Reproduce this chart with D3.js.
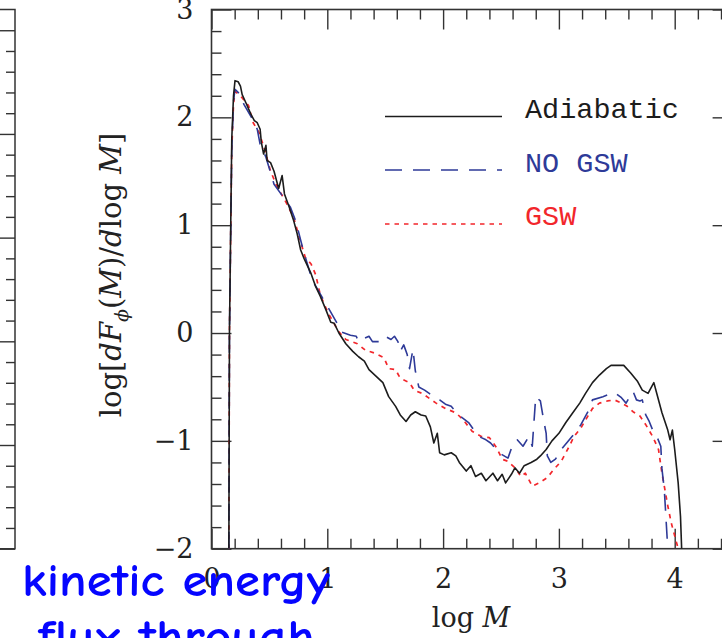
<!DOCTYPE html>
<html>
<head>
<meta charset="utf-8">
<script src="https://cdn.jsdelivr.net/npm/d3@7"></script>
<style>
  html, body { margin: 0; padding: 0; background: #fff; }
  svg { display: block; }
</style>
</head>
<body>
<svg id="chart" width="722" height="638"></svg>
<script>
// ---------------- data ----------------
const adiabaticX = [0.15,0.155,0.175,0.19,0.203,0.23,0.25,0.265,0.295,0.34,0.37,0.395,0.42,0.43,0.45,0.47,0.48,0.51,0.54,0.58,0.61,0.63,0.67,0.71,0.74,0.77,0.80,0.86,0.90,0.94,0.99,1.03,1.06,1.10,1.16,1.22,1.27,1.32,1.36,1.42,1.48,1.53,1.59,1.63,1.68,1.72,1.76,1.81,1.85,1.89,1.92,1.95,1.97,2.01,2.07,2.11,2.14,2.20,2.24,2.28,2.33,2.37,2.43,2.47,2.51,2.54,2.59,2.62,2.66,2.70,2.76,2.81,2.84,2.89,2.94,3.00,3.06,3.12,3.18,3.23,3.29,3.35,3.41,3.45,3.51,3.56,3.62,3.68,3.72,3.77,3.80,3.82,3.84,3.89,3.94,3.96,3.98,4.00,4.03,4.05,4.06];
const adiabaticY = [-2.0,0.0,1.8,2.2,2.34,2.33,2.29,2.21,2.14,2.03,1.97,1.95,1.89,1.77,1.66,1.74,1.60,1.58,1.50,1.34,1.46,1.29,1.17,1.04,0.92,0.77,0.69,0.55,0.43,0.34,0.21,0.10,0.09,0.0,-0.10,-0.17,-0.22,-0.26,-0.34,-0.40,-0.46,-0.59,-0.68,-0.76,-0.82,-0.76,-0.73,-0.76,-0.77,-0.87,-1.02,-0.93,-1.11,-1.13,-1.11,-1.14,-1.20,-1.28,-1.23,-1.33,-1.30,-1.37,-1.30,-1.37,-1.31,-1.39,-1.31,-1.25,-1.30,-1.23,-1.20,-1.17,-1.14,-1.08,-1.00,-0.93,-0.83,-0.74,-0.65,-0.56,-0.46,-0.39,-0.33,-0.30,-0.30,-0.30,-0.37,-0.45,-0.53,-0.56,-0.50,-0.46,-0.54,-0.74,-0.90,-0.99,-0.90,-1.08,-1.39,-1.70,-2.0];

const noGswX = [0.15,0.155,0.175,0.19,0.203,0.24,0.28,0.34,0.395,0.42,0.47,0.54,0.60,0.68,0.73,0.77,0.80,0.87,0.94,1.00,1.09,1.12,1.20,1.25,1.27,1.32,1.36,1.39,1.46,1.50,1.55,1.58,1.61,1.63,1.66,1.69,1.71,1.74,1.76,1.79,1.84,1.88,1.92,1.97,2.02,2.07,2.11,2.17,2.22,2.28,2.33,2.37,2.41,2.46,2.48,2.56,2.60,2.64,2.69,2.74,2.77,2.80,2.84,2.87,2.89,2.90,2.93,2.97,3.02,3.09,3.15,3.19,3.26,3.29,3.38,3.43,3.48,3.54,3.58,3.64,3.67,3.70,3.72,3.75,3.78,3.81,3.85,3.88,3.89,3.91,3.92,3.94];
const noGswY = [-2.0,0.0,1.7,2.15,2.26,2.22,2.12,2.01,1.89,1.75,1.63,1.38,1.29,1.17,1.03,0.86,0.74,0.49,0.36,0.25,0.08,0.01,-0.02,-0.03,-0.08,-0.05,-0.03,-0.08,-0.08,-0.03,-0.06,-0.03,-0.08,-0.17,-0.11,-0.20,-0.33,-0.15,-0.35,-0.50,-0.53,-0.56,-0.59,-0.62,-0.66,-0.68,-0.73,-0.79,-0.83,-0.92,-0.97,-0.99,-1.02,-1.08,-1.11,-1.16,-1.04,-0.99,-1.05,-0.96,-1.05,-0.59,-0.63,-0.82,-0.93,-1.14,-1.20,-1.17,-1.08,-0.99,-0.91,-0.85,-0.71,-0.62,-0.59,-0.57,-0.55,-0.60,-0.65,-0.54,-0.62,-0.63,-0.62,-0.76,-0.82,-0.90,-0.97,-1.05,-1.26,-1.45,-1.63,-2.0];

const gswX = [0.15,0.155,0.175,0.19,0.203,0.25,0.32,0.36,0.41,0.46,0.51,0.57,0.64,0.71,0.76,0.81,0.86,0.90,0.94,1.01,1.10,1.16,1.26,1.33,1.42,1.49,1.53,1.59,1.62,1.65,1.71,1.75,1.82,1.94,2.02,2.11,2.17,2.25,2.33,2.40,2.46,2.51,2.56,2.63,2.67,2.71,2.77,2.83,2.90,2.96,3.02,3.09,3.13,3.19,3.25,3.29,3.35,3.42,3.48,3.54,3.59,3.64,3.70,3.75,3.81,3.86,3.89,3.92,3.94,3.97,4.00,4.03];
const gswY = [-2.0,0.0,1.7,2.12,2.24,2.20,2.11,1.95,1.86,1.70,1.50,1.35,1.22,1.07,0.88,0.70,0.64,0.54,0.35,0.18,0.01,-0.06,-0.10,-0.16,-0.19,-0.23,-0.33,-0.34,-0.40,-0.43,-0.46,-0.53,-0.56,-0.65,-0.70,-0.74,-0.80,-0.91,-0.96,-0.97,-1.06,-1.17,-1.19,-1.26,-1.33,-1.30,-1.42,-1.39,-1.34,-1.26,-1.19,-1.05,-0.96,-0.88,-0.77,-0.70,-0.65,-0.63,-0.62,-0.65,-0.68,-0.73,-0.77,-0.85,-0.96,-1.08,-1.30,-1.48,-1.60,-1.76,-1.88,-2.0];

const xTickValues = [0,1,2,3,4];
const xTickLabels = ["0","1","2","3","4"];
const yTickValues = [-2,-1,0,1,2,3];
const yTickLabels = ["\u22122","\u22121","0","1","2","3"];
const seriesNames = ["Adiabatic","NO GSW","GSW"];
const overlayLines = ["kinetic energy","flux through"];

// ---------------- layout ----------------
const svg = d3.select("#chart");
svg.append("rect").attr("width",722).attr("height",638).attr("fill","#fff");

const L = 211.5, T = 9.5, B = 548.7, R = 732.6;
const x = d3.scaleLinear().domain([0,4.5]).range([L,R]);
const y = d3.scaleLinear().domain([-2,3]).range([B,T]);

const minorX = d3.range(0,4.5,0.2).map(v=>+v.toFixed(2)).filter(v=>Math.abs(v-Math.round(v))>1e-6);
const minorY = d3.range(-2,3,0.2).map(v=>+v.toFixed(2)).filter(v=>Math.abs(v-Math.round(v))>1e-6);

const axisColor = "#333";
const tickFont = "DejaVu Serif, Liberation Serif, serif";

function styleAxis(g){
  g.select(".domain").remove();
  g.selectAll(".tick line").attr("stroke",axisColor).attr("stroke-width",1.4);
  g.selectAll(".tick text").attr("fill","#222").style("font-family",tickFont).style("font-size","27px");
}

// ---- left decorative panel (adjacent figure) ----
const leftY = d3.scaleLinear().domain([0,5.2]).range([B,T]);
const leftMinor = d3.range(0,5.2,0.2).map(v=>+v.toFixed(2)).filter(v=>Math.abs(v-Math.round(v))>1e-6);
svg.append("g").attr("transform",`translate(15,0)`)
  .call(d3.axisLeft(leftY).tickValues(leftMinor).tickSize(9).tickFormat(""))
  .call(styleAxis);
svg.append("g").attr("transform",`translate(15,0)`)
  .call(d3.axisLeft(leftY).tickValues([0,1,2,3,4,5]).tickSize(16).tickFormat(""))
  .call(styleAxis);
svg.append("path").attr("d",`M0,${T}H15V${B}H0`).attr("fill","none").attr("stroke",axisColor).attr("stroke-width",1.5);

// ---- main frame ticks ----
svg.append("g").attr("transform",`translate(0,${B})`)
  .call(d3.axisBottom(x).tickValues(minorX).tickSizeInner(-10).tickSizeOuter(0).tickFormat(""))
  .call(styleAxis);
svg.append("g").attr("transform",`translate(0,${B})`)
  .call(d3.axisBottom(x).tickValues(xTickValues).tickSizeInner(-20).tickSizeOuter(0).tickPadding(20)
        .tickFormat((d,i)=>xTickLabels[i]))
  .call(styleAxis);
svg.append("g").attr("transform",`translate(0,${T})`)
  .call(d3.axisTop(x).tickValues(minorX).tickSizeInner(-10).tickSizeOuter(0).tickFormat(""))
  .call(styleAxis);
svg.append("g").attr("transform",`translate(0,${T})`)
  .call(d3.axisTop(x).tickValues(xTickValues).tickSizeInner(-20).tickSizeOuter(0).tickFormat(""))
  .call(styleAxis);
svg.append("g").attr("transform",`translate(${L},0)`)
  .call(d3.axisLeft(y).tickValues(minorY).tickSizeInner(-10).tickSizeOuter(0).tickFormat(""))
  .call(styleAxis);
svg.append("g").attr("transform",`translate(${L},0)`)
  .call(d3.axisLeft(y).tickValues(yTickValues).tickSizeInner(-20).tickSizeOuter(0).tickPadding(18)
        .tickFormat((d,i)=>yTickLabels[i]))
  .call(styleAxis);
svg.append("g").attr("transform",`translate(${R},0)`)
  .call(d3.axisRight(y).tickValues(minorY).tickSizeInner(-10).tickSizeOuter(0).tickFormat(""))
  .call(styleAxis);
svg.append("g").attr("transform",`translate(${R},0)`)
  .call(d3.axisRight(y).tickValues(yTickValues).tickSizeInner(-20).tickSizeOuter(0).tickFormat(""))
  .call(styleAxis);

svg.append("rect").attr("x",L).attr("y",T).attr("width",R-L).attr("height",B-T)
  .attr("fill","none").attr("stroke",axisColor).attr("stroke-width",1.6);

// ---- curves ----
svg.append("clipPath").attr("id","plotclip").append("rect")
  .attr("x",L).attr("y",T).attr("width",R-L).attr("height",B-T);

const line = d3.line().x(d=>x(d[0])).y(d=>y(d[1]));
const series = [
  {name:seriesNames[0], xs:adiabaticX, ys:adiabaticY, color:"#1c1c1c", dash:null, w:1.6, text:"#1c1c1c"},
  {name:seriesNames[1], xs:noGswX, ys:noGswY, color:"#2e3a98", dash:"17,11", w:1.6, text:"#2e3a98"},
  {name:seriesNames[2], xs:gswX, ys:gswY, color:"#f2262b", dash:"4.5,5", w:1.7, text:"#f2262b"}
];
const curves = svg.append("g").attr("clip-path","url(#plotclip)");
[series[2],series[1],series[0]].forEach(s=>{
  const pts = s.xs.map((v,i)=>[v,s.ys[i]]);
  curves.append("path").datum(pts).attr("d",line)
    .attr("fill","none").attr("stroke",s.color).attr("stroke-width",s.w)
    .attr("stroke-linejoin","round")
    .attr("stroke-dasharray",s.dash);
});

// ---- legend ----
const legY = [116.5, 170, 224];
const legTextY = [118, 171.5, 225];
series.forEach((s,i)=>{
  svg.append("line").attr("x1",385).attr("x2",502).attr("y1",legY[i]).attr("y2",legY[i])
    .attr("stroke",s.color).attr("stroke-width",s.w).attr("stroke-dasharray",s.dash);
  svg.append("text").attr("x",525).attr("y",legTextY[i]).text(s.name)
    .attr("fill",s.text).style("font-family","Liberation Mono, DejaVu Sans Mono, monospace")
    .style("font-size","28.5px");
});

// ---- axis titles ----
const xt = svg.append("text").attr("x",471).attr("y",627).attr("text-anchor","middle")
  .attr("fill","#222").style("font-family",tickFont).style("font-size","27px");
xt.append("tspan").text("log ");
xt.append("tspan").attr("font-style","italic").text("M");

const yt = svg.append("text").attr("transform","translate(121,275) rotate(-90)")
  .attr("text-anchor","middle").attr("fill","#222")
  .style("font-family",tickFont).style("font-size","29px");
yt.append("tspan").text("log[");
yt.append("tspan").attr("font-style","italic").text("dF");
yt.append("tspan").attr("font-style","italic").attr("font-size","19px").attr("dy",7).text("\u03D5");
yt.append("tspan").attr("dy",-7).text("(");
yt.append("tspan").attr("font-style","italic").text("M");
yt.append("tspan").text(")/");
yt.append("tspan").attr("font-style","italic").text("d");
yt.append("tspan").text("log ");
yt.append("tspan").attr("font-style","italic").text("M");
yt.append("tspan").text("]");

// ---- overlay slide text ----
const ov = svg.append("g").attr("fill","#0505ff")
  .style("font-family","Comic Sans MS, Comic Neue, Lato, Open Sans, sans-serif")
  .style("font-weight","700")
  .style("font-size","47px");
ov.append("text").attr("x",22).attr("y",596).attr("textLength",308).attr("lengthAdjust","spacingAndGlyphs").text(overlayLines[0]);
ov.append("text").attr("x",38).attr("y",652).attr("textLength",277).attr("lengthAdjust","spacingAndGlyphs").text(overlayLines[1]);
</script>
</body>
</html>
